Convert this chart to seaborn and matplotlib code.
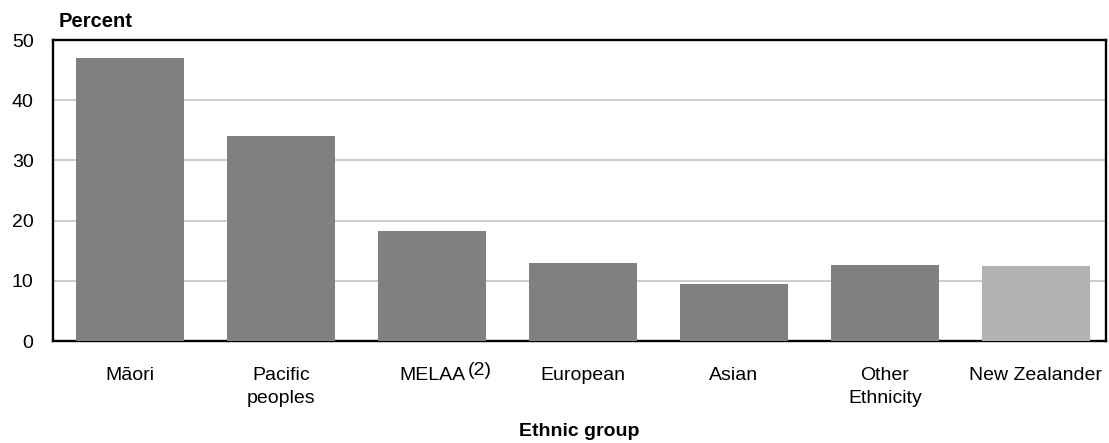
import matplotlib
matplotlib.use("Agg")
import matplotlib.pyplot as plt
import seaborn as sns

# Ethnic group data (percent)
groups = ["Māori", "Pacific\npeoples", "MELAA", "European", "Asian", "Other\nEthnicity", "New Zealander"]
values = [47.0, 34.1, 18.2, 13.0, 9.5, 12.7, 12.5]
bar_colors = ["#808080", "#808080", "#808080", "#808080", "#808080", "#808080", "#b3b3b3"]
y_ticks = [0, 10, 20, 30, 40, 50]

sns.set_style("white")
plt.rcParams['font.family'] = ['Liberation Sans', 'DejaVu Sans']
plt.rcParams['text.color'] = 'black'
plt.rcParams['xtick.color'] = 'black'
plt.rcParams['ytick.color'] = 'black'
plt.rcParams['axes.labelcolor'] = 'black'

fig = plt.figure(figsize=(11.09, 4.43), dpi=100)
ax = fig.add_axes([0.0478, 0.2302, 0.9495, 0.6795])

sns.barplot(x=groups, y=values, hue=groups, palette=bar_colors, legend=False,
            width=0.715, saturation=1, linewidth=0, edgecolor='none', ax=ax, zorder=3)

ax.set_xlim(-0.51, 6.464)
ax.set_ylim(0, 50)
ax.set_yticks(y_ticks)
ax.yaxis.grid(True, color="#c8c8c8", linewidth=1.3, zorder=0)
ax.set_axisbelow(True)
for s in ax.spines.values():
    s.set_visible(True)
    s.set_color("black")
    s.set_linewidth(1.7)

ax.tick_params(axis='y', length=0, pad=14, labelsize=14)
ax.tick_params(axis='x', length=0, pad=19, labelsize=14)
for lab in ax.get_xticklabels():
    lab.set_linespacing(1.45)

# superscript note next to MELAA
melaa_label = ax.get_xticklabels()[2]
ax.annotate("(2)", xy=(1, 0.5), xycoords=melaa_label, xytext=(2, 4),
            textcoords='offset points', ha='left', va='center', fontsize=14)

ax.set_xlabel("Ethnic group", fontsize=14, fontweight='bold')
ax.xaxis.set_label_coords(0.5, -0.272)
ax.xaxis.label.set_va('top')
ax.set_ylabel("")
ax.text(0.005, 1.063, "Percent", transform=ax.transAxes, fontsize=14.5,
        fontweight='bold', ha='left', va='center')

fig.savefig("out.png", dpi=100)
